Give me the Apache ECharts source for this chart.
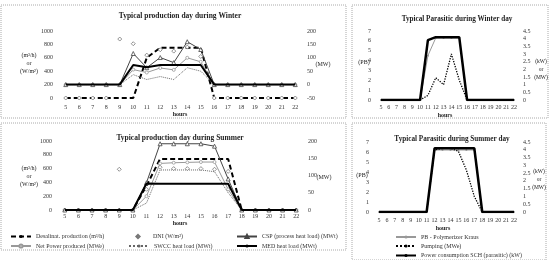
<!DOCTYPE html>
<html><head><meta charset="utf-8">
<script src="https://cdn.jsdelivr.net/npm/echarts@6/dist/echarts.min.js"></script>
<style>html,body{margin:0;padding:0;background:#fff}#c{width:551px;height:260px}</style>
</head><body><div id="c"></div>
<script>
const hours = ['5','6','7','8','9','10','11','12','13','14','15','16','17','18','19','20','21','22'];
// Winter production (left axis m3/h or W/m2, right axis MW)
const desalW = [0,0,0,0,0,0,600,750,750,750,750,0,0,0,0,0,0,0];
const dniW   = [0,0,0,0,880,810,640,720,700,760,620,0,0,0,0,0,0,0];
const cspW   = [0,0,0,0,0,116,63,101,82,160,131,0,0,0,0,0,0,0];
const netW   = [0,0,0,0,0,56,45,62,55,100,85,0,0,0,0,0,0,0];
const swccW  = [0,0,0,0,0,37,19,30,19,63,50,0,0,0,0,0,0,0];
const medW   = [0,0,0,0,0,73,65,73,73,73,73,0,0,0,0,0,0,0];
// Summer production
const desalS = [0,0,0,0,0,0,350,740,740,740,740,740,740,0,0,0,0,0];
const dniS   = [0,0,0,0,590,0,300,620,600,600,600,590,560,0,0,0,0,0];
const cspS   = [0,0,0,0,0,0,79,192,192,192,192,185,90,0,0,0,0,0];
const netS   = [0,0,0,0,0,0,40,135,137,138,139,139,60,0,0,0,0,0];
const swccS  = [0,0,0,0,0,0,20,116,116,116,116,111,50,0,0,0,0,0];
const medS   = [0,0,0,0,0,0,77,76,76,76,76,76,76,0,0,0,0,0];
// Parasitic winter (left PB, right kW or MW)
const pbW    = [0,0,0,0,0,0,4.5,6.3,6.3,6.3,6.3,0,0,0,0,0,0,0];
const pumpW  = [0,0,0,0,0,0,0.3,1.45,1.0,3.0,1.3,0,0,0,0,0,0,0];
const powW   = [0,0,0,0,0,0,3.9,4.1,4.1,4.1,4.1,0,0,0,0,0,0,0];
// Parasitic summer
const pbS    = [0,0,0,0,0,0,0,6.2,6.2,6.2,6.2,6.2,6.2,0,0,0,0,0];
const pumpS  = [0,0,0,0,0,0,0,4.0,4.1,4.1,3.9,2.7,1.0,0,0,0,0,0];
const powS   = [0,0,0,0,0,0,0,4.1,4.1,4.1,4.1,4.1,4.1,0,0,0,0,0];

const N = {
  desal:'Desalinat. production (m³/h)', dni:'DNI (W/m²)', csp:'CSP (process heat load) (MWt)',
  net:'Net Power produced (MWe)', swcc:'SWCC heat load (MWt)', med:'MED heat load (MWt)',
  pb:'PB - Polymerizer Kraus', pump:'Pumping (MWe)', pow:'Power consumption SCH (parasitic) (kW)'
};
const FF = '"Liberation Serif", "DejaVu Serif", serif';
const lab = {fontFamily:FF, fontSize:6, color:'#333'};

function xa(gi,m){return {type:'category', gridIndex:gi, data:hours, boundaryGap:true,
  axisLine:{show:false}, axisTick:{show:false}, splitLine:{show:false},
  axisLabel:Object.assign({interval:0, margin:m}, lab)};}
function ya(gi,min,max,iv,pos){return {type:'value', gridIndex:gi, min:min, max:max, interval:iv, position:pos,
  axisLine:{show:false}, axisTick:{show:false}, splitLine:{show:false},
  axisLabel:Object.assign({}, lab, {margin: pos==='right'?5:6, formatter:function(v){return String(v);}})};}

const styles = {
  desal:{lineStyle:{color:'#000', width:2, type:[5,3]}, itemStyle:{color:'#000'}, symbol:'none'},
  dni:{lineStyle:{color:'#888', width:0, opacity:0}, itemStyle:{color:'#fff', borderColor:'#777', borderWidth:0.8}, symbol:'diamond', symbolSize:4, showSymbol:true},
  csp:{lineStyle:{color:'#444', width:1}, itemStyle:{color:'#fff', borderColor:'#444', borderWidth:0.8}, symbol:'triangle', symbolSize:4, showSymbol:true},
  net:{lineStyle:{color:'#999', width:1}, itemStyle:{color:'#fff', borderColor:'#999', borderWidth:0.8}, symbol:'circle', symbolSize:3, showSymbol:true},
  swcc:{lineStyle:{color:'#666', width:1, type:'dotted'}, itemStyle:{color:'#666'}, symbol:'none'},
  med:{lineStyle:{color:'#000', width:2}, itemStyle:{color:'#000'}, symbol:'none'},
  pb:{lineStyle:{color:'#999', width:1}, itemStyle:{color:'#999'}, symbol:'circle', symbolSize:2, showSymbol:true},
  pump:{lineStyle:{color:'#000', width:1.3, type:'dotted'}, itemStyle:{color:'#000'}, symbol:'none'},
  pow:{lineStyle:{color:'#000', width:2.5}, itemStyle:{color:'#000'}, symbol:'none'}
};
function s(key, data, xi, yi){
  return Object.assign({type:'line', name:N[key], data:data, xAxisIndex:xi, yAxisIndex:yi, animation:false, z: key==='med'||key==='pow'?3:2}, styles[key]);
}

const series = [
  s('dni',dniW,0,0), s('desal',desalW,0,0), s('swcc',swccW,0,1), s('net',netW,0,1), s('csp',cspW,0,1), s('med',medW,0,1),
  s('dni',dniS,1,2), s('desal',desalS,1,2), s('swcc',swccS,1,3), s('net',netS,1,3), s('csp',cspS,1,3), s('med',medS,1,3),
  s('pb',pbW,2,4), s('pump',pumpW,2,5), s('pow',powW,2,5),
  s('pb',pbS,3,6), s('pump',pumpS,3,7), s('pow',powS,3,7)
];

function T(x,y,text,opt){opt=opt||{};return {type:'text', x:x, y:y, silent:true, style:{text:text, fill:opt.c||'#222',
  font:(opt.b?'bold ':'')+(opt.s||6)+'px '+FF, textAlign:opt.a||'center', textVerticalAlign:'middle', align:opt.a||'center', verticalAlign:'middle', lineHeight:opt.lh||8}};}
function R(x,y,w,h){return {type:'rect', silent:true, shape:{x:x,y:y,width:w,height:h}, style:{fill:'none', stroke:'#aaa', lineWidth:1, lineDash:[1,1]}};}

const legTxt = {fontFamily:FF, fontSize:6, color:'#333'};
function L(left, cy, name){return {left:left, top:cy-4, orient:'horizontal', itemWidth:20, itemHeight:4, padding:0,
  textStyle:legTxt, data:[name], selectedMode:false};}

const option = {
  animation:false,
  grid:[
    {left:59, top:31, width:243, height:67},
    {left:58, top:141, width:245, height:69},
    {left:377, top:31, width:141, height:69},
    {left:375, top:142, width:143, height:70}
  ],
  xAxis:[xa(0,6), xa(1,3), xa(2,4), xa(3,5)],
  yAxis:[
    ya(0,0,1000,200,'left'), ya(0,-50,200,50,'right'),
    ya(1,0,1000,200,'left'), ya(1,0,200,50,'right'),
    ya(2,0,7,1,'left'), ya(2,0,4.5,0.5,'right'),
    ya(3,0,7,1,'left'), ya(3,0,4.5,0.5,'right')
  ],
  legend:[
    L(10,237.5,N.desal), L(10,247,N.net),
    L(128,237.5,N.dni), L(128,247,N.swcc),
    L(236,237.5,N.csp), L(236,247,N.med),
    L(395,238,N.pb), L(395,247,N.pump), L(395,256.5,N.pow)
  ],
  series:series,
  graphic:[
    R(1,5,345,113), R(352,5,196,113), R(1,123,345,127), R(352,123,194,137),
    T(180,16,'Typical production day during Winter',{b:1,s:7.5}),
    T(180,138,'Typical production day during Summer',{b:1,s:7.5}),
    T(457,19,'Typical Parasitic during Winter day',{b:1,s:7.2}),
    T(452,139,'Typical Parasitic during Summer day',{b:1,s:7.2}),
    T(29,63,'(m³/h)\nor\n(W/m²)',{}), T(29,176,'(m³/h)\nor\n(W/m²)',{}),
    T(323,64,'(MW)',{}), T(324,177,'(MW)',{}),
    T(364,62,'(PB)',{}), T(362,175,'(PB)',{}),
    T(541,70,'(kW)\nor\n(MW)',{s:5.5}), T(539,180,'(kW)\nor\n(MW)',{s:5.5}),
    T(180,114,'hours',{b:1}), T(180,223,'hours',{b:1}),
    T(445,115,'hours',{b:1}), T(443,228,'hours',{b:1})
  ]
};
const chart = echarts.init(document.getElementById('c'), null, {renderer:'canvas'});
chart.setOption(option);
</script></body></html>
